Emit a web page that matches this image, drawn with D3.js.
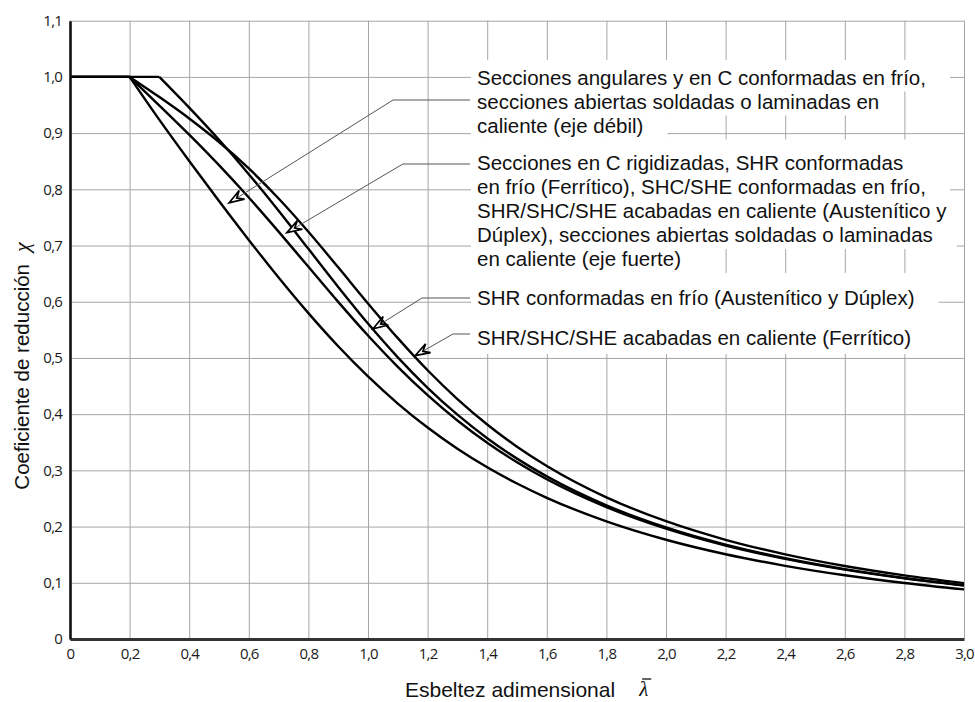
<!DOCTYPE html>
<html>
<head>
<meta charset="utf-8">
<script src="https://cdn.jsdelivr.net/npm/d3@7"></script>
<style>
    body { margin: 0; background: #fff; }
    svg { display: block; }
</style>
</head>
<body>
<svg id="chart" width="975" height="702"></svg>
<script>
(() => { // IIFE

    // --- data ---
    // slenderness values (lambda) for the curves starting at 0,2 and at 0,3
    const lambdaFrom02 = [0, 0.2, 0.3, 0.4, 0.5, 0.6, 0.7, 0.8, 0.9, 1.0, 1.1, 1.2, 1.3, 1.4, 1.5, 1.6, 1.8, 2.0, 2.2, 2.4, 2.6, 2.8, 3.0];
    const lambdaFrom03 = [0, 0.3, 0.4, 0.5, 0.6, 0.7, 0.8, 0.9, 1.0, 1.1, 1.2, 1.3, 1.4, 1.5, 1.6, 1.8, 2.0, 2.2, 2.4, 2.6, 2.8, 3.0];

    // reduction factor chi for each curve
    const chiAngulares = [1.0, 1.0, 0.9235, 0.8504, 0.7793, 0.7100, 0.6431, 0.5797, 0.5208, 0.4671, 0.4189, 0.3762, 0.3385, 0.3055, 0.2766, 0.2512, 0.2093, 0.1766, 0.1508, 0.1302, 0.1134, 0.0997, 0.0882];
    const chiRigidizadas = [1.0, 1.0, 0.9491, 0.8973, 0.8430, 0.7854, 0.7247, 0.6622, 0.5998, 0.5399, 0.4842, 0.4338, 0.3888, 0.3492, 0.3145, 0.2842, 0.2345, 0.1962, 0.1662, 0.1425, 0.1234, 0.1079, 0.0951];
    const chiShrFrio = [1.0, 1.0, 0.9454, 0.8881, 0.8269, 0.7618, 0.6941, 0.6263, 0.5612, 0.5011, 0.4469, 0.3991, 0.3573, 0.3209, 0.2893, 0.2378, 0.1984, 0.1678, 0.1436, 0.1243, 0.1085, 0.0956];
    const chiFerritico = [1.0, 1.0, 0.9641, 0.9261, 0.8842, 0.8371, 0.7837, 0.7245, 0.6612, 0.5970, 0.5352, 0.4781, 0.4269, 0.3817, 0.3422, 0.3079, 0.2521, 0.2095, 0.1765, 0.1506, 0.1299, 0.1132, 0.0994];

    // tick labels
    const xTickValues = [0, 0.2, 0.4, 0.6, 0.8, 1.0, 1.2, 1.4, 1.6, 1.8, 2.0, 2.2, 2.4, 2.6, 2.8, 3.0];
    const xTickLabels = ["0", "0,2", "0,4", "0,6", "0,8", "1,0", "1,2", "1,4", "1,6", "1,8", "2,0", "2,2", "2,4", "2,6", "2,8", "3,0"];
    const yTickValues = [0, 0.1, 0.2, 0.3, 0.4, 0.5, 0.6, 0.7, 0.8, 0.9, 1.0, 1.1];
    const yTickLabels = ["0", "0,1", "0,2", "0,3", "0,4", "0,5", "0,6", "0,7", "0,8", "0,9", "1,0", "1,1"];

    // annotation texts, one array per curve
    const labelAngulares = ["Secciones angulares y en C conformadas en frío,", "secciones abiertas soldadas o laminadas en", "caliente (eje débil)"];
    const labelRigidizadas = ["Secciones en C rigidizadas, SHR conformadas", "en frío (Ferrítico), SHC/SHE conformadas en frío,", "SHR/SHC/SHE acabadas en caliente (Austenítico y", "Dúplex), secciones abiertas soldadas o laminadas", "en caliente (eje fuerte)"];
    const labelShrFrio = ["SHR conformadas en frío (Austenítico y Dúplex)"];
    const labelFerritico = ["SHR/SHC/SHE acabadas en caliente (Ferrítico)"];

    const series = [
        {lambda: lambdaFrom02, chi: chiAngulares},
        {lambda: lambdaFrom02, chi: chiRigidizadas},
        {lambda: lambdaFrom03, chi: chiShrFrio},
        {lambda: lambdaFrom02, chi: chiFerritico},
    ];

    // --- layout ---
    const svg = d3.select("svg#chart");
    const left = 70, right = 964, top = 20.7, bottom = 639;
    const sansFont = "'Liberation Sans', Arial, sans-serif";
    const serifFont = "'Liberation Serif', 'Times New Roman', serif";
    const tickFont = "'Open Sans', sans-serif";

    const x = d3.scaleLinear().domain([0, 3]).range([left, right]);
    const y = d3.scaleLinear().domain([0, 1.1]).range([bottom, top]);

    // grid lines
    svg.append('g')
        .attr('class', 'grid')
        .attr('transform', `translate(0, ${bottom})`)
        .call(d3.axisBottom(x)
            .tickValues(xTickValues)
            .tickSize(-(bottom - top))
            .tickFormat(''));
    svg.append('g')
        .attr('class', 'grid')
        .attr('transform', `translate(${left}, 0)`)
        .call(d3.axisLeft(y)
            .tickValues(yTickValues)
            .tickSize(-(right - left))
            .tickFormat(''));
    svg.selectAll('.grid .domain').remove();
    svg.selectAll('.grid line')
        .attr('stroke', '#a6a6a6')
        .attr('stroke-width', 1);

    // curves: flat plateau drawn straight, the rest smoothed
    const line = d3.line().x(d => x(d[0])).y(d => y(d[1]));
    series.forEach(s => {
        const pts = s.lambda.map((l, i) => [l, s.chi[i]]);
        svg.append('path')
            .attr('d', line.curve(d3.curveLinear)(pts.slice(0, 2)))
            .attr('fill', 'none')
            .attr('stroke', '#000')
            .attr('stroke-width', 2.4);
        svg.append('path')
            .attr('d', line.curve(d3.curveMonotoneX)(pts.slice(1)))
            .attr('fill', 'none')
            .attr('stroke', '#000')
            .attr('stroke-width', 2.4)
            .attr('stroke-linejoin', 'round');
    });

    // axis lines and tick labels
    const xAxis = svg.append('g')
        .attr('transform', `translate(0, ${bottom})`)
        .call(d3.axisBottom(x)
            .tickValues(xTickValues)
            .tickSize(0)
            .tickPadding(9)
            .tickFormat((d, i) => xTickLabels[i]));
    const yAxis = svg.append('g')
        .attr('transform', `translate(${left}, 0)`)
        .call(d3.axisLeft(y)
            .tickValues(yTickValues)
            .tickSize(0)
            .tickPadding(8)
            .tickFormat((d, i) => yTickLabels[i]));
    [xAxis, yAxis].forEach(a => {
        a.selectAll('text')
            .attr('font-family', tickFont)
            .attr('font-size', 15)
            .attr('letter-spacing', -0.8)
            .attr('fill', '#1a1a1a');
    });
    xAxis.select('.domain').attr('stroke', '#333').attr('stroke-width', 3);
    yAxis.select('.domain').attr('stroke', '#111').attr('stroke-width', 2.6);

    // axis titles
    const yTitle = svg.append('text')
        .attr('transform', 'translate(29, 366) rotate(-90)')
        .attr('text-anchor', 'middle')
        .attr('font-family', sansFont)
        .attr('font-size', 20.5)
        .attr('fill', '#111');
    yTitle.append('tspan').text('Coeficiente de reducción');
    yTitle.append('tspan')
        .attr('dx', 12)
        .attr('font-family', serifFont)
        .attr('font-style', 'italic')
        .attr('font-size', 22)
        .text('χ');

    const xTitle = svg.append('text')
        .attr('x', 405)
        .attr('y', 697)
        .attr('font-family', sansFont)
        .attr('font-size', 21)
        .attr('fill', '#111')
        .text('Esbeltez adimensional');
    const lambdaX = 405 + xTitle.node().getComputedTextLength() + 24;
    const lambdaSym = svg.append('text')
        .attr('x', lambdaX)
        .attr('y', 696)
        .attr('font-family', serifFont)
        .attr('font-style', 'italic')
        .attr('font-size', 21)
        .attr('fill', '#111')
        .text('λ');
    const lw = lambdaSym.node().getComputedTextLength();
    svg.append('line')
        .attr('x1', lambdaX + 3).attr('x2', lambdaX + lw + 3)
        .attr('y1', 679).attr('y2', 679)
        .attr('stroke', '#111')
        .attr('stroke-width', 1.3);

    // annotations
    const textX = 477;
    const lineStep = 24;
    const annotations = [
        {lines: labelAngulares, baseline: 84.5, leaderLine: 1, leaderDy: 8.5, elbow: 1.084, tip: [0.534, 0.776]},
        {lines: labelRigidizadas, baseline: 170, leaderLine: 0, leaderDy: 6, elbow: 1.117, tip: [0.728, 0.723]},
        {lines: labelShrFrio, baseline: 305, leaderLine: 0, leaderDy: 7, elbow: 1.181, tip: [1.017, 0.552]},
        {lines: labelFerritico, baseline: 345, leaderLine: 0, leaderDy: 11, elbow: 1.285, tip: [1.158, 0.504]},
    ];

    const bgLayer = svg.append('g');
    const textLayer = svg.append('g');
    const leaderLayer = svg.append('g');

    let prevBottom = 60;
    const allRows = [];
    annotations.forEach(a => {
        a.lines.forEach((t, i) => allRows.push({text: t, baseline: a.baseline + i * lineStep}));
    });
    allRows.forEach((r, i) => {
        const txt = textLayer.append('text')
            .attr('x', textX)
            .attr('y', r.baseline)
            .attr('font-family', sansFont)
            .attr('font-size', 20.5)
            .attr('fill', '#111')
            .text(r.text);
        const w = txt.node().getComputedTextLength();
        const rowBottom = i === allRows.length - 1 ? 354 : r.baseline + 7;
        bgLayer.append('rect')
            .attr('x', textX - 6)
            .attr('y', prevBottom)
            .attr('width', Math.min(w + 30, right - 1 - (textX - 6)))
            .attr('height', rowBottom - prevBottom)
            .attr('fill', '#fff');
        prevBottom = rowBottom;
    });

    // leaders with notched arrowheads
    annotations.forEach(a => {
        const ly = a.baseline + a.leaderLine * lineStep - a.leaderDy;
        const ex = x(a.elbow);
        const tx = x(a.tip[0]), ty = y(a.tip[1]);
        const dx = tx - ex, dy = ty - ly;
        const len = Math.hypot(dx, dy);
        const ux = dx / len, uy = dy / len;
        const headLen = 15, headHalf = 5, notch = 9;
        const bx = tx - ux * headLen, by = ty - uy * headLen;
        const nx = tx - ux * notch, ny = ty - uy * notch;
        leaderLayer.append('path')
            .attr('d', `M${textX - 7},${ly}L${ex},${ly}L${nx},${ny}`)
            .attr('fill', 'none')
            .attr('stroke', '#555')
            .attr('stroke-width', 1);
        leaderLayer.append('path')
            .attr('d', `M${tx},${ty}L${bx - uy * headHalf},${by + ux * headHalf}L${nx},${ny}L${bx + uy * headHalf},${by - ux * headHalf}Z`)
            .attr('fill', '#fff')
            .attr('stroke', '#000')
            .attr('stroke-width', 1.7)
            .attr('stroke-linejoin', 'miter');
    });

})();
</script>
</body>
</html>
